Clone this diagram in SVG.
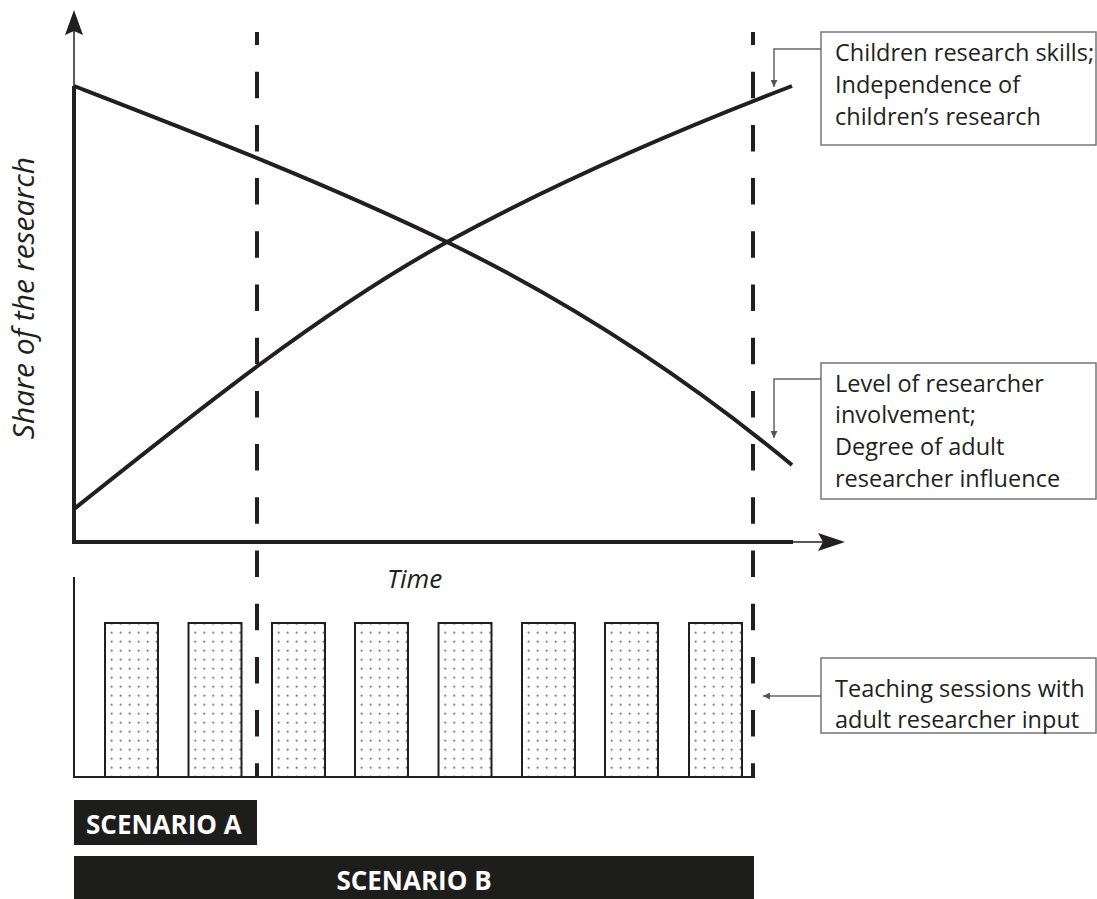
<svg xmlns="http://www.w3.org/2000/svg" width="1097" height="899" viewBox="0 0 1097 899">
<style>
.lbl{font-family:"Open Sans","Liberation Sans",sans-serif;font-size:23.5px;fill:#231f20}
.ital{font-family:"Open Sans","Liberation Sans",sans-serif;font-style:italic;fill:#231f20}
.scen{font-family:"Open Sans","Liberation Sans",sans-serif;font-weight:bold;font-size:26px;fill:#fff}
.box{fill:#fff;stroke:#777;stroke-width:1.5}
.lead{fill:none;stroke:#666;stroke-width:1.5}
.curve{fill:none;stroke:#231f20;stroke-width:4}
.dash{stroke:#231f20;stroke-width:4;stroke-dasharray:26.5 26.7;stroke-dashoffset:13.5}
.bar{fill:url(#dots);stroke:#231f20;stroke-width:2}
</style>
<defs>
<pattern id="dots" patternUnits="userSpaceOnUse" x="2.2" y="-3.8" width="9" height="9">
<circle cx="4.5" cy="4.5" r="1" fill="#555"/>
</pattern>
<marker id="sm" viewBox="0 0 10 10" refX="10" refY="5" markerWidth="7" markerHeight="7" markerUnits="userSpaceOnUse" orient="auto">
<path d="M0,0 L10,5 L0,10 Z" fill="#555"/>
</marker>
</defs>

<g id="axes">
<line x1="74" y1="86" x2="74" y2="544" stroke="#231f20" stroke-width="4"/>
<line x1="74" y1="86" x2="74" y2="30" stroke="#231f20" stroke-width="1.5"/>
<path d="M74,10 L83,35 L74,31 L65,35 Z" fill="#231f20"/>
<line x1="72" y1="542" x2="793" y2="542" stroke="#231f20" stroke-width="4"/>
<line x1="793" y1="542" x2="825" y2="542" stroke="#231f20" stroke-width="1.5"/>
<path d="M845,542 L818,533 L823,542 L818,551 Z" fill="#231f20"/>
<text class="ital" font-size="30" transform="translate(34,298) rotate(-90)" text-anchor="middle">Share of the research</text>
<text class="ital" font-size="26" x="387" y="588">Time</text>
</g>

<g id="curves">
<path class="curve" d="M74,86 C198,134 323,182 447,242 C562,298 677,370 792,465"/>
<path class="curve" d="M74,509 C198,410 323,310 447,242 C562,179 677,130 792,86"/>
</g>

<g id="dashed-lines">
<line class="dash" x1="257" y1="32" x2="257" y2="778"/>
<line class="dash" x1="753" y1="32" x2="753" y2="778"/>
</g>

<g id="sessions">
<line x1="74" y1="577" x2="74" y2="778" stroke="#231f20" stroke-width="2"/>
<line x1="73" y1="777" x2="755" y2="777" stroke="#231f20" stroke-width="2"/>
<g transform="translate(105,623)"><rect class="bar" x="0" y="0" width="53" height="154"/></g>
<g transform="translate(188.5,623)"><rect class="bar" x="0" y="0" width="53" height="154"/></g>
<g transform="translate(272,623)"><rect class="bar" x="0" y="0" width="53" height="154"/></g>
<g transform="translate(355,623)"><rect class="bar" x="0" y="0" width="53" height="154"/></g>
<g transform="translate(438.5,623)"><rect class="bar" x="0" y="0" width="53" height="154"/></g>
<g transform="translate(522,623)"><rect class="bar" x="0" y="0" width="53" height="154"/></g>
<g transform="translate(605,623)"><rect class="bar" x="0" y="0" width="53" height="154"/></g>
<g transform="translate(689,623)"><rect class="bar" x="0" y="0" width="53" height="154"/></g>
</g>

<g id="label-children">
<rect class="box" x="821" y="32" width="275" height="113"/>
<text class="lbl" x="835" y="61">Children research skills;</text>
<text class="lbl" x="835" y="93">Independence of</text>
<text class="lbl" x="835" y="125">children’s research</text>
</g>

<g id="label-researcher">
<rect class="box" x="821" y="363" width="275" height="136"/>
<text class="lbl" x="835" y="392">Level of researcher</text>
<text class="lbl" x="835" y="423">involvement;</text>
<text class="lbl" x="835" y="455">Degree of adult</text>
<text class="lbl" x="835" y="487">researcher influence</text>
</g>

<g id="label-teaching">
<rect class="box" x="821" y="658" width="275" height="75"/>
<text class="lbl" x="835" y="697">Teaching sessions with</text>
<text class="lbl" x="835" y="728">adult researcher input</text>
</g>

<g id="scenario-a">
<rect x="74" y="800" width="183" height="45" fill="#1d1d1b"/>
<text class="scen" x="86" y="834">SCENARIO A</text>
</g>

<g id="scenario-b">
<rect x="74" y="856" width="680" height="43" fill="#1d1d1b"/>
<text class="scen" x="414" y="890" text-anchor="middle">SCENARIO B</text>
</g>

<g id="connectors">
<path class="lead" d="M821,49 H774 V87" marker-end="url(#sm)"/>
<path class="lead" d="M821,379 H774 V438" marker-end="url(#sm)"/>
<path class="lead" d="M821,696 H763" marker-end="url(#sm)"/>
</g>
</svg>
